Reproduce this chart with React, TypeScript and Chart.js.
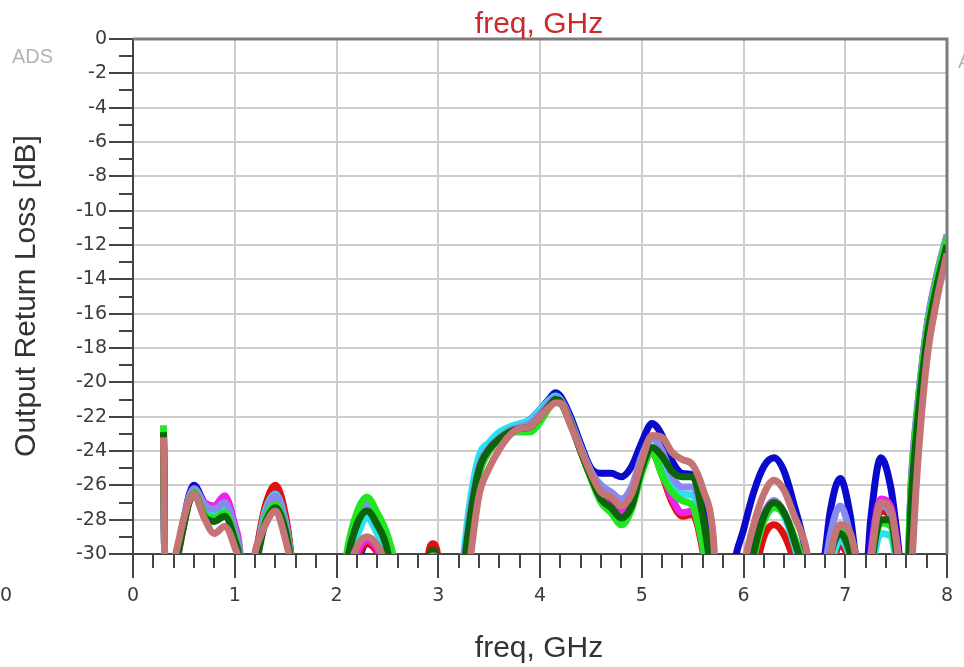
import React, { useEffect, useRef } from 'react';
import { Chart, registerables } from 'chart.js';

Chart.register(...registerables);

// ---- data ----
const freqGHz = [
  0.30, 0.32, 0.40, 0.45, 0.50, 0.55, 0.60, 0.70, 0.80, 0.90,
  1.00, 1.05, 1.10, 1.20, 1.25, 1.30, 1.40, 1.50, 1.55, 1.60,
  1.70, 1.80, 1.90, 2.00, 2.10, 2.20, 2.30, 2.40, 2.50, 2.60,
  2.70, 2.80, 2.90, 2.95, 3.00, 3.10, 3.20, 3.30, 3.40, 3.50,
  3.60, 3.70, 3.80, 3.90, 4.00, 4.10, 4.15, 4.20, 4.30, 4.40,
  4.50, 4.60, 4.70, 4.80, 4.90, 5.00, 5.10, 5.20, 5.30, 5.40,
  5.50, 5.60, 5.70, 5.80, 5.90, 6.00, 6.10, 6.20, 6.30, 6.40,
  6.50, 6.60, 6.70, 6.80, 6.85, 6.95, 7.05, 7.10, 7.20, 7.25,
  7.35, 7.45, 7.50, 7.60, 7.65, 7.70, 7.80, 7.90, 8.00,
];

const lossBlue = [
  -23.1, -34, -32.0, -29.6, -28.0, -26.6, -26.0, -27.0, -27.5, -27.3,
  -29.0, -30.5, -35, -30.6, -28.9, -27.4, -26.3, -28.0, -30.0, -33,
  -38, -38, -38, -35, -32.0, -30.6, -29.3, -29.8, -32.0, -34,
  -38, -38, -31.0, -30.6, -31.0, -38, -33, -28.0, -24.8, -23.8,
  -23.2, -22.8, -22.5, -22.2, -21.6, -20.9, -20.6, -20.8, -22.0, -23.6,
  -25.0, -25.3, -25.3, -25.5, -24.9, -23.5, -22.4, -23.1, -24.6, -25.3,
  -25.4, -27.2, -31.5, -38, -31.0, -28.6, -26.4, -24.9, -24.4, -25.2,
  -27.2, -29.5, -33, -30.0, -27.6, -25.6, -27.8, -30.0, -31.5, -28.0,
  -24.4, -26.2, -28.4, -33, -25.8, -22.2, -16.9, -13.8, -11.5,
];

const lossRed = [
  -23.1, -34, -31.5, -29.8, -28.3, -27.0, -26.4, -27.5, -27.8, -27.5,
  -29.0, -30.4, -35, -30.4, -28.6, -27.2, -26.0, -27.8, -29.9, -33,
  -38, -38, -38, -35, -31.8, -30.2, -29.4, -29.9, -31.5, -34,
  -38, -38, -30.2, -29.4, -30.3, -38, -34, -28.8, -25.3, -24.0,
  -23.3, -22.9, -22.7, -22.6, -22.0, -21.3, -21.0, -21.1, -22.4, -24.0,
  -25.5, -26.6, -27.2, -27.6, -26.8, -25.0, -24.1, -25.4, -27.0, -27.8,
  -27.7, -29.8, -34, -38, -38, -34, -31.5, -29.0, -28.3, -28.9,
  -30.5, -33, -37, -34, -31.5, -29.5, -30.8, -33, -33, -30.4,
  -27.5, -28.0, -29.5, -33.5, -26.6, -22.8, -17.4, -14.2, -11.8,
];

const lossMagenta = [
  -23.0, -34, -31.5, -29.6, -28.1, -26.8, -26.2, -27.0, -27.2, -26.6,
  -28.3, -29.8, -35, -30.8, -29.2, -27.8, -26.8, -28.4, -30.2, -33,
  -38, -38, -38, -35, -31.5, -29.9, -29.2, -29.7, -31.2, -34,
  -38, -38, -30.8, -30.2, -30.8, -38, -34, -28.8, -25.3, -24.0,
  -23.3, -22.9, -22.7, -22.6, -22.0, -21.2, -21.0, -21.1, -22.4, -24.0,
  -25.5, -26.6, -27.3, -27.5, -26.8, -25.0, -23.9, -25.2, -26.8, -27.6,
  -27.5, -29.6, -34, -38, -37, -32.5, -29.8, -27.7, -26.9, -27.6,
  -29.2, -31.5, -36, -32, -29.8, -28.5, -29.8, -31.5, -33, -30.0,
  -26.8, -27.3, -29.0, -33, -26.4, -22.6, -17.3, -14.1, -11.7,
];

const lossCyan = [
  -23.1, -34, -31.0, -29.5, -28.0, -26.8, -26.3, -27.3, -27.6, -27.2,
  -28.8, -30.2, -35, -30.6, -28.9, -27.5, -26.5, -28.2, -30.1, -33,
  -38, -38, -38, -35, -31.0, -29.0, -27.9, -28.8, -30.2, -34,
  -38, -38, -31.0, -30.5, -31.0, -38, -33, -27.5, -24.3, -23.5,
  -22.9, -22.6, -22.4, -22.2, -21.6, -21.0, -20.8, -21.0, -22.3, -23.8,
  -25.2, -26.2, -26.6, -26.8, -26.3, -24.5, -23.3, -24.2, -25.8, -26.5,
  -26.6, -28.8, -33, -38, -36, -32.5, -30.0, -27.9, -27.0, -27.8,
  -29.5, -32, -36, -33, -31.0, -29.2, -30.3, -32, -34, -31.5,
  -28.8, -29.0, -30.4, -34, -26.4, -22.6, -17.3, -14.1, -11.7,
];

const lossLavender = [
  -23.0, -34, -31.5, -29.6, -28.1, -26.7, -26.2, -27.1, -27.4, -27.0,
  -28.6, -30.1, -35, -30.7, -29.0, -27.7, -26.6, -28.3, -30.2, -33,
  -38, -38, -38, -35, -30.5, -28.0, -27.1, -28.0, -29.6, -34,
  -38, -38, -31.0, -30.5, -31.0, -38, -33.5, -28.2, -24.9, -23.8,
  -23.2, -22.8, -22.6, -22.4, -21.8, -21.1, -20.9, -21.0, -22.2, -23.8,
  -25.2, -26.0, -26.4, -26.8, -26.1, -24.3, -23.2, -24.0, -25.5, -26.1,
  -26.1, -28.0, -32, -38, -36, -32.5, -29.8, -27.7, -26.9, -27.6,
  -29.2, -31.5, -36, -31.0, -29.0, -27.2, -29.0, -31.0, -33, -30.4,
  -27.2, -27.8, -29.4, -33, -25.5, -22.0, -16.8, -13.7, -11.4,
];

const lossGreen = [
  -22.5, -34, -31.2, -29.7, -28.2, -26.9, -26.4, -27.6, -27.9, -27.6,
  -29.0, -30.4, -35, -30.9, -29.3, -28.0, -27.1, -28.6, -30.3, -33,
  -38, -38, -38, -35, -30.0, -27.6, -26.7, -27.6, -28.9, -31.5,
  -38, -38, -30.6, -30.0, -30.6, -38, -34, -29.0, -25.4, -24.0,
  -23.3, -22.9, -22.9, -22.9, -22.3, -21.4, -21.1, -21.2, -22.4, -24.0,
  -25.6, -27.0, -27.6, -28.3, -27.4, -25.3, -24.0, -25.4, -26.4, -26.9,
  -27.2, -29.5, -33, -38, -36, -33, -30.2, -28.1, -27.3, -27.7,
  -29.0, -31.0, -35, -32, -30.2, -28.3, -29.8, -31.5, -34, -31.0,
  -28.2, -28.4, -29.8, -31.2, -26.0, -22.4, -17.2, -14.0, -11.6,
];

const lossDarkGreen = [
  -22.9, -34, -31.4, -29.8, -28.3, -27.0, -26.5, -27.8, -28.1, -27.8,
  -29.2, -30.5, -35, -31.0, -29.4, -28.2, -27.3, -28.7, -30.4, -33,
  -38, -38, -38, -35, -30.6, -28.3, -27.5, -28.3, -29.8, -34,
  -38, -38, -30.5, -29.8, -30.6, -38, -33.5, -28.5, -25.1, -23.9,
  -23.3, -22.9, -22.7, -22.6, -22.0, -21.3, -21.0, -21.1, -22.4, -24.0,
  -25.5, -26.8, -27.3, -27.9, -27.2, -25.0, -23.8, -24.3, -25.2, -25.5,
  -25.5, -27.8, -32, -38, -36, -33, -29.9, -27.8, -27.0, -27.6,
  -29.2, -31.5, -36, -32, -30.2, -28.8, -30.0, -31.5, -34, -31.0,
  -28.0, -28.0, -29.8, -33, -26.8, -23.0, -17.6, -14.4, -12.0,
];

const lossBrown = [
  -23.2, -34, -30.6, -29.2, -27.9, -26.9, -26.5, -27.9, -28.8, -28.4,
  -29.6, -30.8, -35, -29.9, -29.0, -28.3, -27.5, -29.2, -30.6, -33,
  -38, -38, -38, -35, -31.5, -29.6, -29.0, -29.5, -30.9, -34,
  -38, -38, -30.7, -30.1, -30.7, -38, -36, -31.0, -26.6, -25.0,
  -23.9, -23.1, -22.7, -22.6, -22.0, -21.4, -21.2, -21.2, -22.5, -23.9,
  -25.3, -26.4, -26.7, -27.2, -26.5, -24.6, -23.1, -23.2, -24.1, -24.5,
  -24.8, -26.2, -28.8, -38, -37, -31.0, -28.3, -26.5, -25.7, -26.3,
  -27.8, -29.3, -32, -33, -30.3, -28.3, -28.8, -30.0, -33, -30.5,
  -27.0, -27.5, -29.2, -34, -31.0, -25.8, -18.8, -15.2, -12.5,
];

// first entry is drawn on top
const seriesNames = ['brown', 'darkgreen', 'green', 'lavender', 'cyan', 'magenta', 'red', 'blue'];
const seriesValues = [lossBrown, lossDarkGreen, lossGreen, lossLavender, lossCyan, lossMagenta, lossRed, lossBlue];
const seriesColors = ['#c47474', '#0a640a', '#22e622', '#8a8aee', '#28e2f0', '#ee22ee', '#e01010', '#0a0acc'];

const xMin = 0;
const xMax = 8;
const yMin = -30;
const yMax = 0;

const FONT = '"Liberation Sans", Arial, sans-serif';
const TICK_FONT = '"DejaVu Sans", "Liberation Sans", sans-serif';

const decorPlugin = {
  id: 'decor',
  afterDraw(chart: any) {
    const { ctx, chartArea: a, scales } = chart;
    const xs = scales.x;
    const ys = scales.y;
    ctx.save();
    // top + right frame
    ctx.strokeStyle = '#7c7c7c';
    ctx.lineWidth = 3;
    ctx.beginPath();
    ctx.moveTo(a.left, a.top);
    ctx.lineTo(a.right, a.top);
    ctx.lineTo(a.right, a.bottom);
    ctx.stroke();

    // minor ticks
    ctx.strokeStyle = '#444';
    ctx.lineWidth = 2;
    ctx.beginPath();
    for (let k = 1; k < 40; k++) {
      if (k % 5 === 0) continue;
      const px = Math.round(xs.getPixelForValue(k * 0.2));
      ctx.moveTo(px, a.bottom);
      ctx.lineTo(px, a.bottom + 14);
    }
    for (let v = -29; v < 0; v += 2) {
      const py = Math.round(ys.getPixelForValue(v));
      ctx.moveTo(a.left - 14, py);
      ctx.lineTo(a.left, py);
    }
    ctx.stroke();

    // texts
    ctx.textBaseline = 'alphabetic';
    ctx.textAlign = 'center';
    ctx.font = `30px ${FONT}`;
    ctx.fillStyle = '#cc2a2a';
    ctx.fillText('freq, GHz', 539, 33);
    ctx.fillStyle = '#333';
    ctx.fillText('freq, GHz', 539, 657);

    ctx.save();
    ctx.translate(35, 296);
    ctx.rotate(-Math.PI / 2);
    ctx.fillText('Output Return Loss [dB]', 0, 0);
    ctx.restore();

    ctx.font = `20px ${FONT}`;
    ctx.fillStyle = '#b4b4b4';
    ctx.textAlign = 'left';
    ctx.textBaseline = 'middle';
    ctx.fillText('ADS', 12, 57);
    ctx.fillText('ADS', 958, 62);

    ctx.font = `19px ${TICK_FONT}`;
    ctx.fillStyle = '#3c3c3c';
    ctx.fillText('0', 0, 596);
    ctx.restore();
  },
};

export default function App() {
  const ref = useRef<HTMLCanvasElement>(null);
  useEffect(() => {
    if (!ref.current) return;
    const chart = new Chart(ref.current, {
      type: 'line',
      data: {
        datasets: seriesNames.map((name, i) => ({
          label: name,
          data: freqGHz.map((f, j) => ({ x: f, y: seriesValues[i][j] })),
          borderColor: seriesColors[i],
          backgroundColor: seriesColors[i],
          borderWidth: 7,
          borderJoinStyle: 'round' as const,
          pointRadius: 0,
          cubicInterpolationMode: 'monotone' as const,
          fill: false,
        })),
      },
      options: {
        responsive: false,
        animation: false,
        devicePixelRatio: 1,
        layout: { padding: { top: 39, right: 17, left: 0, bottom: 0 } },
        plugins: { legend: { display: false }, tooltip: { enabled: false }, title: { display: false } },
        scales: {
          x: {
            type: 'linear',
            min: xMin,
            max: xMax,
            afterFit(s: any) { s.height = 113; },
            ticks: { stepSize: 1, font: { family: TICK_FONT, size: 19 }, color: '#3c3c3c', padding: 7, maxRotation: 0 },
            grid: { color: '#cdcdcd', lineWidth: 2, tickLength: 24, tickColor: '#444', tickWidth: 2 },
            border: { color: '#444', width: 2 },
          },
          y: {
            type: 'linear',
            min: yMin,
            max: yMax,
            afterFit(s: any) { s.width = 133; },
            ticks: { stepSize: 2, font: { family: TICK_FONT, size: 19 }, color: '#3c3c3c', padding: 2 },
            grid: { color: '#cdcdcd', lineWidth: 2, tickLength: 24, tickColor: '#444', tickWidth: 2 },
            border: { color: '#444', width: 2 },
          },
        },
      },
      plugins: [decorPlugin],
    });
    return () => chart.destroy();
  }, []);
  return (
    <div style={{ position: 'fixed', left: 0, top: 0, width: 964, height: 667, background: '#fff' }}>
      <canvas ref={ref} width={964} height={667} style={{ display: 'block' }} />
    </div>
  );
}
